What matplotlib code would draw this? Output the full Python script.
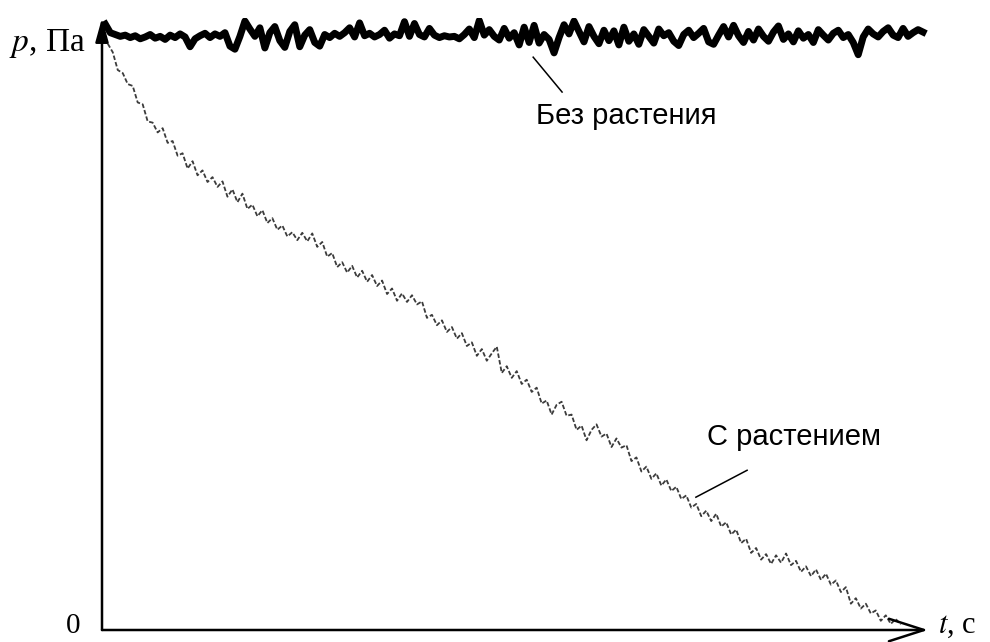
import numpy as np
import matplotlib
matplotlib.use("Agg")
import matplotlib.pyplot as plt

plt.rcParams["mathtext.fontset"] = "stix"

# pressure without plant
p_no_plant = [
    99.0, 97.6, 97.3, 97.0, 97.2, 96.8, 97.1, 96.6, 96.9, 97.3,
    96.7, 97.0, 96.5, 97.2, 96.8, 97.4, 96.9, 95.3, 96.6, 97.1,
    97.5, 96.8, 97.4, 97.0, 97.6, 95.4, 94.9, 97.0, 99.5, 98.2,
    97.0, 98.4, 95.1, 97.6, 98.6, 96.3, 95.2, 97.8, 98.9, 95.3,
    97.2, 98.1, 96.0, 95.4, 97.3, 96.8, 97.5, 97.0, 97.6, 98.4,
    96.9, 99.2, 97.1, 97.5, 96.9, 97.3, 98.0, 96.7, 97.4, 97.1,
    99.4, 97.0, 99.1, 97.3, 96.9, 98.3, 97.2, 96.8, 97.1, 96.9,
    97.0, 96.6, 97.3, 98.2, 96.8, 99.6, 97.2, 98.1, 97.0, 96.4,
    98.3, 96.7, 97.6, 95.6, 98.5, 96.0, 98.8, 95.9, 97.3, 96.5,
    94.3, 96.8, 98.9, 97.4, 99.5, 97.8, 96.1, 98.6, 97.0, 95.8,
    98.0, 96.3, 97.9, 95.6, 98.5, 96.2, 97.4, 95.7, 98.1, 97.0,
    95.9, 98.2, 97.1, 97.6, 96.2, 95.5, 97.3, 98.0, 96.8, 97.5,
    98.3, 96.1, 95.7, 97.2, 98.6, 96.9, 98.8, 97.1, 96.0, 97.8,
    96.4, 98.2, 97.0, 96.2, 97.7, 98.7, 96.5, 97.4, 96.1, 97.9,
    96.7, 97.3, 96.0, 98.1, 97.2, 96.4, 97.5, 98.0, 96.8, 97.3,
    96.0, 94.0, 96.9, 98.2, 97.4, 96.9, 97.8, 98.4, 97.2, 96.8,
    98.3, 97.0, 97.6, 98.1, 97.7,
]

# pressure with plant
p_plant = [
    95.8, 94.4, 91.5, 91.0, 89.2, 88.9, 86.2, 85.9, 83.1, 82.9,
    81.3, 82.0, 79.6, 79.9, 77.5, 77.9, 75.4, 76.6, 74.3, 75.1,
    73.2, 74.0, 72.4, 73.3, 70.8, 72.0, 69.9, 71.3, 68.8, 69.5,
    67.6, 68.6, 66.5, 67.3, 65.4, 66.1, 64.3, 65.0, 63.7, 64.9,
    63.5, 64.8, 62.6, 63.4, 61.0, 61.6, 59.3, 60.1, 58.4, 59.5,
    57.6, 58.7, 56.9, 58.0, 56.2, 57.1, 54.9, 55.8, 53.8, 55.0,
    53.6, 54.7, 53.2, 53.7, 51.0, 51.5, 49.8, 50.6, 48.7, 49.5,
    47.6, 48.5, 46.4, 47.0, 44.8, 45.9, 44.0, 45.2, 46.3, 42.0,
    43.1, 41.2, 42.3, 40.2, 40.9, 38.9, 39.6, 37.0, 37.5, 35.2,
    36.8, 37.3, 35.0, 35.2, 32.7, 33.4, 31.0, 32.7, 33.6, 31.6,
    32.1, 29.9, 31.3, 29.8, 30.2, 27.6, 28.2, 25.9, 26.7, 24.7,
    25.6, 23.6, 24.6, 22.7, 23.4, 21.4, 22.0, 20.0, 20.6, 18.6,
    19.5, 17.8, 19.0, 16.9, 17.6, 15.6, 16.4, 14.2, 14.9, 12.6,
    13.4, 11.5, 12.4, 10.8, 12.2, 11.0, 12.5, 10.6, 11.3, 9.5,
    10.4, 8.8, 9.9, 8.2, 9.2, 7.4, 8.1, 6.2, 7.0, 4.3,
    5.2, 3.5, 4.3, 2.7, 3.2, 1.5, 2.4, 1.0, 1.8, 0.9,
]

# sample times (evenly spaced recorder samples)
t_no_plant = np.linspace(0.4, 99.4, len(p_no_plant))
t_plant = np.linspace(0.7, 96.7, len(p_plant))

label_no_plant = "Без растения"
label_plant = "С растением"

fig = plt.figure(figsize=(9.9, 6.42), dpi=100)
ax = fig.add_axes([102 / 990, 12 / 642, 826 / 990, 612 / 642])
ax.set_xlim(0, 100)
ax.set_ylim(0, 100)
ax.axis("off")

# scanned trace looks broken up, so a fine dashed grey line
ax.plot(t_plant, p_plant, color="#3c3c3c", lw=1.3, dashes=(2.5, 1.2))
ax.plot(t_no_plant, p_no_plant, color="black", lw=5.0, solid_joinstyle="round")

# axes with arrows
ax.annotate("", xy=(0, 1), xytext=(0, 0), xycoords="axes fraction",
            arrowprops=dict(arrowstyle="-|>,head_length=0.8,head_width=0.22",
                            lw=1.8, color="black", mutation_scale=18,
                            shrinkA=0, shrinkB=0))
ax.annotate("", xy=(1, 0), xytext=(0, 0), xycoords="axes fraction",
            arrowprops=dict(arrowstyle="->,head_length=1.4,head_width=0.45",
                            lw=1.8, color="black", mutation_scale=18,
                            shrinkA=0, shrinkB=0))

# curve labels with leader lines
ax.plot([52.2, 55.7], [93.6, 87.9], color="black", lw=1.1)
ax.text(52.6, 84.0, label_no_plant, fontsize=21, family="Liberation Sans",
        va="center", ha="left")
ax.plot([78.1, 71.9], [26.1, 21.7], color="black", lw=1.1)
ax.text(73.2, 31.6, label_plant, fontsize=21, family="Liberation Sans",
        va="center", ha="left")

serif = "Liberation Serif"
fig.text(85 / 990, 1 - 43 / 642, r"$p$, Па", fontsize=24, family=serif,
         ha="right", va="center")
fig.text(73 / 990, 1 - 626 / 642, "0", fontsize=21, family=serif,
         ha="center", va="center")
fig.text(938 / 990, 1 - 625 / 642, r"$t$, с", fontsize=22, family=serif,
         ha="left", va="center")

fig.savefig("out.png", dpi=100)
